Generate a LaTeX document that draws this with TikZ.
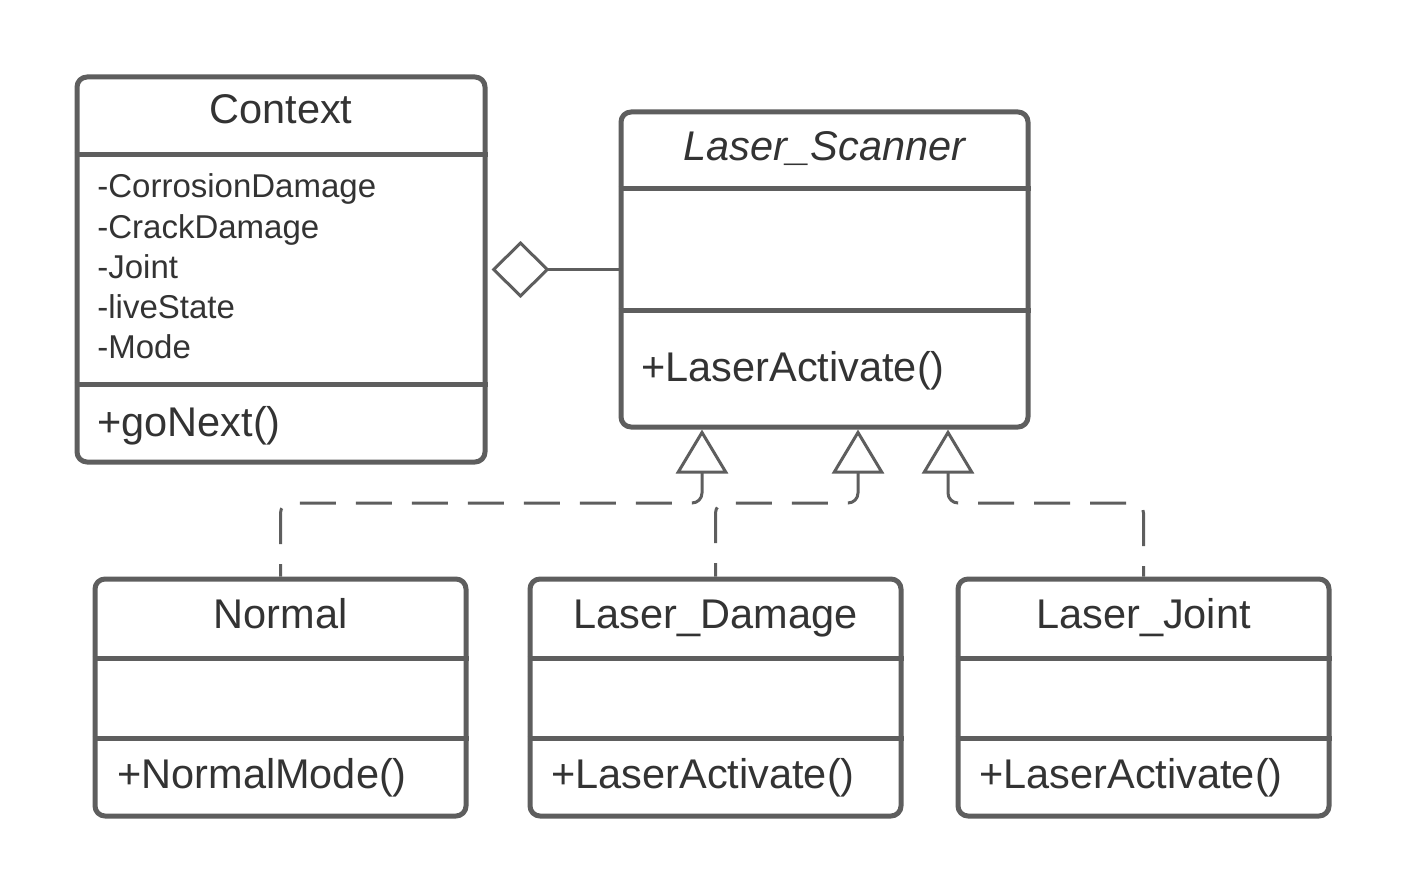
\documentclass[tikz,border=0pt]{standalone}
\usepackage{fontspec}
\setmainfont{Liberation Sans}
\usetikzlibrary{arrows.meta}
\definecolor{umlline}{RGB}{94,94,94}
\definecolor{umltext}{RGB}{51,51,51}
\tikzset{
	umlclass/.style={draw=umlline, line width=2.5pt, rounded corners=5pt, fill=white, inner sep=0pt},
	umlsep/.style={draw=umlline, line width=2.5pt},
	umltitle/.style={anchor=base, text=umltext, inner sep=0pt, font=\fontsize{20.75}{24}\selectfont},
	umlattr/.style={anchor=base west, text=umltext, inner sep=0pt, font=\fontsize{16.5}{20}\selectfont},
	umlop/.style={anchor=base west, text=umltext, inner sep=0pt, font=\fontsize{20.75}{24}\selectfont},
	realize/.style={draw=umlline, line width=1.5pt, dash pattern=on 18pt off 10pt, rounded corners=5pt,
		{Triangle[open, length=22pt, width=26pt]}-},
	aggregate/.style={draw=umlline, line width=1.5pt, -{Diamond[open, length=29pt, width=28.5pt]}, shorten >=2pt}
}
\begin{document}
\begin{tikzpicture}[x=0.5pt, y=-0.5pt, line join=round]
	\useasboundingbox (0,0) rectangle (1406,893);
	% classes
	\node[umlclass, minimum width=204pt, minimum height=192.5pt] (ctx) at (281,269.5) {};
	\node[umlclass, minimum width=203.5pt, minimum height=157.5pt] (scan) at (824.5,269.5) {};
	\node[umlclass, minimum width=185.5pt, minimum height=118.5pt] (norm) at (280.5,697.5) {};
	\node[umlclass, minimum width=185.5pt, minimum height=118.5pt] (ldam) at (715.5,697.5) {};
	\node[umlclass, minimum width=185.5pt, minimum height=118.5pt] (ljnt) at (1143.5,697.5) {};
	% compartments
	\draw[umlsep] (ctx.west |- 0,155) -- (ctx.east |- 0,155);
	\draw[umlsep] (ctx.west |- 0,384) -- (ctx.east |- 0,384);
	\draw[umlsep] (scan.west |- 0,189) -- (scan.east |- 0,189);
	\draw[umlsep] (scan.west |- 0,310) -- (scan.east |- 0,310);
	\foreach \c in {norm,ldam,ljnt}{
		\draw[umlsep] (\c.west |- 0,658) -- (\c.east |- 0,658);
		\draw[umlsep] (\c.west |- 0,738) -- (\c.east |- 0,738);
	}
	% texts
	\node[umltitle] (ctxname) at (281,124) {Context};
	\node[umltitle] (scanname) at (824.5,161) {\itshape Laser\_Scanner};
	\node[umltitle] (normname) at (280.5,628) {Normal};
	\node[umltitle] (ldamname) at (715.5,628) {Laser\_Damage};
	\node[umltitle] (ljntname) at (1143.5,628) {Laser\_Joint};
	\foreach \t [count=\i] in {-CorrosionDamage,-CrackDamage,-Joint,-liveState,-Mode}
		\node[umlattr] (attr\i) at (97,158+40*\i) {\t};
	\node[umlop] (ctxop) at (97,436) {+goNext()};
	\node[umlop] (scanop) at (641,381) {+LaserActivate()};
	\node[umlop] (normop) at (117,788) {+NormalMode()};
	\node[umlop] (ldamop) at (551,788) {+LaserActivate()};
	\node[umlop] (ljntop) at (979,788) {+LaserActivate()};
	% relations
	\draw[aggregate] (scan.west) -- (ctx.east);
	\coordinate (bus) at (0,503);
	\coordinate (t1) at (702,0 |- scan.south);
	\coordinate (t2) at (858,0 |- scan.south);
	\coordinate (t3) at (948,0 |- scan.south);
	\draw[realize] (t1) -- (t1 |- bus) -| (norm.north);
	\draw[realize] (t2) -- (t2 |- bus) -| (ldam.north);
	\draw[realize] (t3) -- (t3 |- bus) -| (ljnt.north);
\end{tikzpicture}
\end{document}
